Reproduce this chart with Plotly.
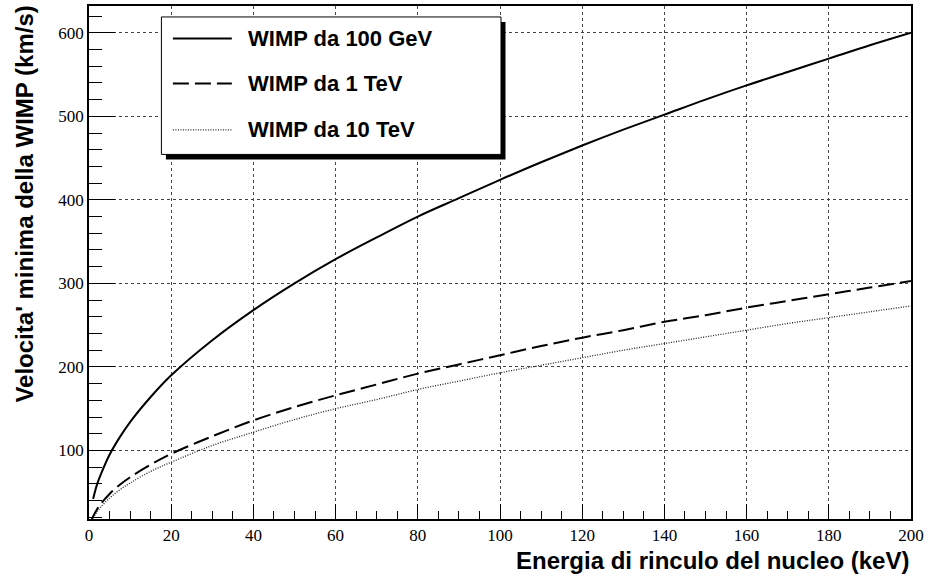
import plotly.graph_objects as go

# Recoil energy (keV)
energy = [0.5, 1, 2, 3, 5, 7.5, 10, 15, 20, 30, 40, 50, 60, 70, 80, 90, 100,
          110, 120, 130, 140, 150, 160, 170, 180, 190, 200]
# Minimum WIMP velocity (km/s)
v_100gev = [None, 42, 60, 73, 95, 116, 134, 164, 190, 232, 268, 300, 329, 355, 380,
            402, 424, 445, 465, 484, 502, 520, 537, 553, 569, 585, 600]
v_1tev = [15, 21, 30, 37, 48, 59, 68, 83, 96, 117, 136, 152, 166, 179, 192, 203,
          214, 225, 235, 244, 254, 262, 271, 279, 287, 295, 303]
v_10tev = [14, 19, 27, 33, 43, 53, 61, 75, 86, 106, 122, 137, 150, 161, 173, 183,
           193, 202, 211, 220, 228, 236, 244, 252, 259, 266, 273]

labels = ["WIMP da 100 GeV", "WIMP da 1 TeV", "WIMP da 10 TeV"]
x_title = "Energia di rinculo del nucleo (keV)"
y_title = "Velocita' minima della WIMP (km/s)"

W, H = 928, 580
L, R, T, B = 89, 16, 4, 61
PW, PH = W - L - R, H - T - B


def px(x):
    return (x - L) / PW


def py(y):
    return (H - B - y) / PH


fig = go.Figure()
styles = [dict(color="black", width=2, dash="solid"),
          dict(color="black", width=2, dash="16px,6px"),
          dict(color="#222", width=1.3, dash="1px,1.5px")]
series = [v_100gev, v_1tev, v_10tev]
for lab, vals, st in zip(labels, series, styles):
    xs = [e for e, v in zip(energy, vals) if v is not None]
    ys = [v for v in vals if v is not None]
    fig.add_trace(go.Scatter(x=xs, y=ys, mode="lines", name=lab, line=st,
                             showlegend=False, line_shape="spline"))

tickfont = dict(family="Liberation Serif, Times New Roman, serif", size=17, color="black")
fig.update_xaxes(range=[0, 200], dtick=20, tick0=0, ticks="inside", ticklen=15,
                 tickwidth=1, tickcolor="black", showline=True, linecolor="black",
                 linewidth=1.5, mirror=True, showgrid=True, gridcolor="#444",
                 griddash="dot", gridwidth=1, zeroline=False, tickfont=tickfont,
                 minor=dict(dtick=5, ticks="inside", ticklen=8, tickcolor="black",
                            showgrid=False))
fig.update_yaxes(range=[18, 632], dtick=100, tick0=0, ticks="inside", ticklen=26,
                 tickwidth=1, tickcolor="black", showline=True, linecolor="black",
                 linewidth=1.5, mirror=True, showgrid=True, gridcolor="#444",
                 griddash="dot", gridwidth=1, zeroline=False, tickfont=tickfont,
                 minor=dict(dtick=20, ticks="inside", ticklen=13, tickcolor="black",
                            showgrid=False))

shapes = []
# legend shadow and box
shapes.append(dict(type="rect", xref="paper", yref="paper", x0=px(166), x1=px(506),
                   y0=py(158), y1=py(20), fillcolor="black", line=dict(width=0)))
shapes.append(dict(type="rect", xref="paper", yref="paper", x0=px(161.5), x1=px(501.5),
                   y0=py(153), y1=py(15), fillcolor="white",
                   line=dict(color="black", width=1)))
rows = [36.7, 81.7, 128.3]
annotations = []
for lab, st, ry in zip(labels, styles, rows):
    shapes.append(dict(type="line", xref="paper", yref="paper", x0=px(173), x1=px(232),
                       y0=py(ry), y1=py(ry), line=st))
    annotations.append(dict(text=lab, xref="paper", yref="paper", x=px(246), y=py(ry),
                            xanchor="left", yanchor="middle", showarrow=False,
                            font=dict(family="Liberation Sans", size=22, color="black",
                                      weight="bold")))

annotations.append(dict(text=x_title, xref="paper", yref="paper", x=1.0, y=py(561),
                        xanchor="right", yanchor="middle", showarrow=False,
                        font=dict(family="Liberation Sans", size=24, color="black",
                                  weight="bold")))
annotations.append(dict(text=y_title, xref="paper", yref="paper", x=px(24), y=py(2),
                        xanchor="center", yanchor="top", showarrow=False, textangle=-90,
                        font=dict(family="Liberation Sans", size=24, color="black",
                                  weight="bold")))

fig.update_layout(width=W, height=H, margin=dict(l=L, r=R, t=T, b=B),
                  paper_bgcolor="white", plot_bgcolor="white",
                  shapes=shapes, annotations=annotations, showlegend=False)

fig.write_html("out.html")
